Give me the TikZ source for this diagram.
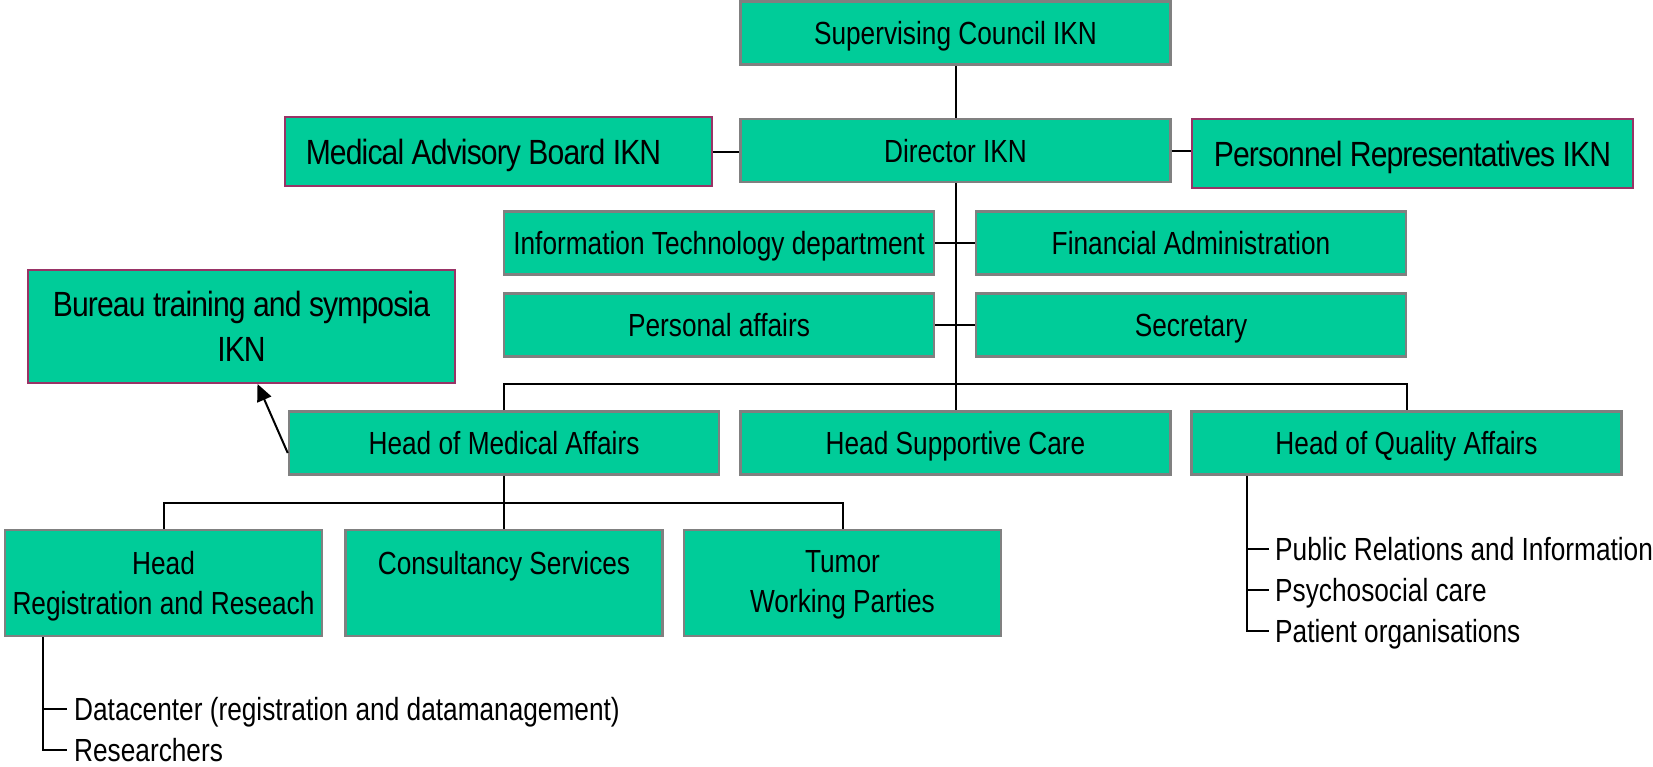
\documentclass[tikz,border=0pt]{standalone}
\usepackage{fontspec}
\setmainfont{Liberation Sans}[FakeStretch=0.82]
\newfontfamily\boardfont{Liberation Sans}[FakeStretch=0.86, LetterSpace=-2.5]
\usetikzlibrary{arrows.meta}
\definecolor{boxgreen}{RGB}{0,204,153}
\definecolor{boxgray}{RGB}{128,128,128}
\definecolor{boardrim}{RGB}{153,51,102}

\tikzset{
  unit/.style={draw=boxgray, line width=2.5pt, fill=boxgreen,
    minimum width=430pt, minimum height=63pt, inner sep=0pt,
    font=\fontsize{32}{40}\selectfont, text height=23pt, text depth=0pt},
  board/.style={draw=boardrim, line width=2pt, fill=boxgreen, inner sep=0pt,
    font=\boardfont\fontsize{35}{45}\selectfont, align=center},
  tall/.style={draw=boxgray, line width=2.5pt, fill=boxgreen,
    minimum width=317pt, minimum height=106pt, inner sep=0pt},
  caption/.style={inner sep=0pt, font=\fontsize{32}{40}\selectfont, align=center},
  item/.style={inner sep=0pt, anchor=west, font=\fontsize{32}{40}\selectfont,
    text height=23pt, text depth=0pt},
  link/.style={line width=2pt, black},
}

\begin{document}
\begin{tikzpicture}[x=1pt, y=-1pt]
\useasboundingbox (0,0) rectangle (1653,766);

% top management
\node[unit] (sup) at (955.5,33) {Supervising Council IKN};
\node[unit] (dir) at (955.5,150.5) {Director IKN};
\node[board, minimum width=427pt, minimum height=69pt, text height=25pt, text depth=0pt]
  (mab) at (498.5,151.5) {Medical Advisory Board IKN\hspace{30pt}};
\node[board, minimum width=441pt, minimum height=69pt, text height=25pt, text depth=0pt]
  (per) at (1412.5,153.5) {Personnel Representatives IKN};
\node[board, minimum width=427pt, minimum height=113pt]
  (bur) at (241.5,326.5) {Bureau training and symposia\\IKN};

% staff departments
\node[unit] (it) at (719,243) {Information Technology department};
\node[unit] (fin) at (1191,243) {Financial Administration};
\node[unit] (pa) at (719,325) {Personal affairs};
\node[unit] (sec) at (1191,325) {Secretary};

% heads
\node[unit] (hma) at (504,443) {Head of Medical Affairs};
\node[unit] (hsc) at (955.5,443) {Head Supportive Care};
\node[unit] (hqa) at (1406.5,443) {Head of Quality Affairs};

% medical affairs units
\node[tall] (hrr) at (163.5,583) {};
\node[tall] (cons) at (504,583) {};
\node[tall] (tum) at (842.5,583) {};
\node[caption, anchor=north] (hrrtext) at ([yshift=-22pt]hrr.north) {Head\\Registration and Reseach};
\node[caption, anchor=north] (constext) at ([yshift=-22pt]cons.north) {Consultancy Services};
\node[caption, anchor=north] (tumtext) at ([yshift=-22pt]tum.north) {Tumor\\Working Parties};

% connectors
\draw[link] (sup) -- (dir);
\draw[link] (mab.east) -- (mab.east -| dir.west);
\draw[link] (dir.east) -- (dir.east -| per.west);
\draw[link] (dir) -- (hsc);
\draw[link] (it) -- (fin);
\draw[link] (pa) -- (sec);
\coordinate (bus2) at (955.5,384);
\draw[link] (hma.north) |- (bus2) -| (hqa.north);
\coordinate (bus3) at (504,503);
\draw[link] (hma.south) -- (bus3);
\draw[link] (hrr.north) |- (bus3) -| (tum.north);
\draw[link] (bus3) -- (cons.north);
\draw[link, -{Triangle[length=17pt, width=15pt]}] ([yshift=-10pt]hma.west) -- ([xshift=16pt]bur.south);

% registration sub-units
\coordinate (lx) at (43,0);
\node[item] (dc) at (74,709) {Datacenter (registration and datamanagement)};
\node[item] (res) at (74,750) {Researchers};
\draw[link] (hrr.south -| lx) |- ([xshift=-7pt]res.west);
\draw[link] (lx |- dc.west) -- ([xshift=-7pt]dc.west);

% quality affairs sub-units
\coordinate (rx) at (1247,0);
\node[item] (pr) at (1275,549) {Public Relations and Information};
\node[item] (ps) at (1275,590) {Psychosocial care};
\node[item] (po) at (1275,631) {Patient organisations};
\draw[link] (hqa.south -| rx) |- ([xshift=-6pt]po.west);
\draw[link] (rx |- pr.west) -- ([xshift=-6pt]pr.west);
\draw[link] (rx |- ps.west) -- ([xshift=-6pt]ps.west);
\end{tikzpicture}
\end{document}
